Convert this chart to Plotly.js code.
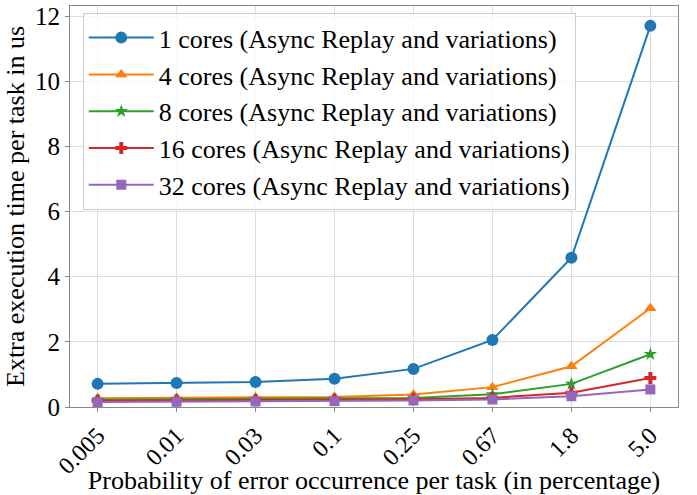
<!DOCTYPE html>
<html>
<head>
<meta charset="utf-8">
<script src="https://cdn.plot.ly/plotly-3.0.1.min.js"></script>
<style>html,body{margin:0;padding:0;background:#fff;}#chart{width:697px;height:495px;}</style>
</head>
<body>
<div id="chart"></div>
<script>
const categories = ["0.005", "0.01", "0.03", "0.1", "0.25", "0.67", "1.8", "5.0"];
const cores1  = [0.71, 0.74, 0.77, 0.87, 1.17, 2.06, 4.58, 11.70];
const cores4  = [0.27, 0.28, 0.29, 0.31, 0.38, 0.61, 1.25, 3.03];
const cores8  = [0.22, 0.23, 0.24, 0.25, 0.28, 0.39, 0.71, 1.62];
const cores16 = [0.19, 0.20, 0.21, 0.22, 0.24, 0.28, 0.44, 0.89];
const cores32 = [0.15, 0.16, 0.17, 0.18, 0.20, 0.23, 0.33, 0.54];
const seriesNames = [
  "1 cores (Async Replay and variations)",
  "4 cores (Async Replay and variations)",
  "8 cores (Async Replay and variations)",
  "16 cores (Async Replay and variations)",
  "32 cores (Async Replay and variations)"
];
const xTitle = "Probability of error occurrence per task (in percentage)";
const yTitle = "Extra execution time per task in us";

const FONT = "'Liberation Serif', 'Times New Roman', Times, serif";
const series = [cores1, cores4, cores8, cores16, cores32];
const colors = ["#1f77b4", "#ff7f0e", "#2ca02c", "#d62728", "#9467bd"];
const symbols = ["circle", "triangle-up", "star", "cross", "square"];
const sizes = [12, 11, 10, 10, 10];

const traces = series.map((ys, i) => ({
  x: categories,
  y: ys,
  name: seriesNames[i],
  type: "scatter",
  mode: "lines+markers",
  line: {color: colors[i], width: 2},
  marker: {color: colors[i], symbol: symbols[i], size: sizes[i], line: {width: 0}}
}));

const layout = {
  width: 697, height: 495,
  margin: {l: 70, r: 19, t: 6, b: 88},
  paper_bgcolor: "#fff", plot_bgcolor: "#fff",
  font: {family: FONT, size: 26, color: "#000"},
  showlegend: true,
  legend: {
    x: 0.021, y: 0.982, xanchor: "left", yanchor: "top",
    bgcolor: "rgba(255,255,255,0.8)", bordercolor: "#cccccc", borderwidth: 1,
    font: {family: FONT, size: 26, color: "#000"},
    itemwidth: 65
  },
  xaxis: {
    type: "category",
    range: [-0.35, 7.35],
    tickangle: -45,
    ticks: "outside", ticklen: 4, tickcolor: "#888",
    showgrid: true, gridcolor: "#dcdcdc", gridwidth: 1,
    showline: true, linecolor: "#888", linewidth: 1, mirror: true,
    zeroline: false,
    tickfont: {family: FONT, size: 24, color: "#000"},
    title: {text: xTitle, font: {family: FONT, size: 26, color: "#000"}, standoff: 0}
  },
  yaxis: {
    range: [0, 12.31],
    tickvals: [0, 2, 4, 6, 8, 10, 12],
    ticks: "outside", ticklen: 4, tickcolor: "#888",
    showgrid: true, gridcolor: "#dcdcdc", gridwidth: 1,
    showline: true, linecolor: "#888", linewidth: 1, mirror: true,
    zeroline: false,
    tickfont: {family: FONT, size: 25, color: "#000"},
    title: {text: yTitle, font: {family: FONT, size: 26, color: "#000"}, standoff: 2}
  }
};

Plotly.newPlot("chart", traces, layout, {displayModeBar: false, staticPlot: true});
</script>
</body>
</html>
